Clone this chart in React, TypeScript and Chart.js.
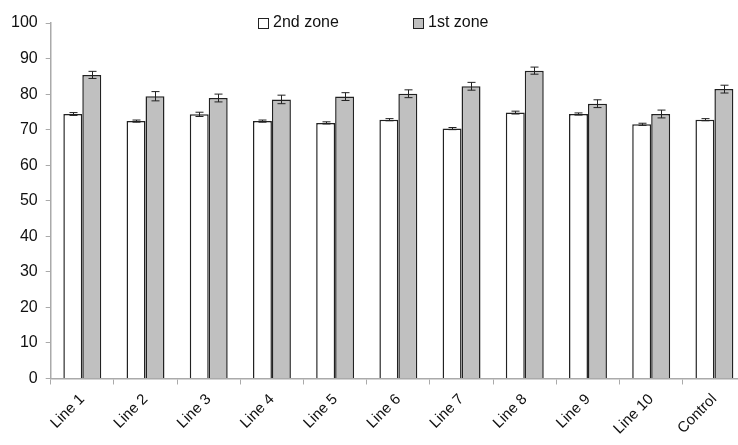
import React, { useEffect, useRef } from "react";
import { Chart, registerables } from "chart.js";

Chart.register(...registerables);

const categories = ["Line 1", "Line 2", "Line 3", "Line 4", "Line 5", "Line 6", "Line 7", "Line 8", "Line 9", "Line 10", "Control"];
const zone2 = [74.4, 72.4, 74.3, 72.4, 71.9, 72.8, 70.3, 74.8, 74.4, 71.5, 72.8];
const zone2Err = [0.4, 0.3, 0.6, 0.3, 0.3, 0.3, 0.3, 0.4, 0.3, 0.3, 0.3];
const zone1 = [85.4, 79.4, 78.9, 78.5, 79.3, 80.1, 82.2, 86.6, 77.3, 74.4, 81.4];
const zone1Err = [1.0, 1.3, 1.1, 1.2, 1.1, 1.1, 1.1, 1.0, 1.1, 1.1, 1.1];
const seriesNames = ["2nd zone", "1st zone"];
const yTicks = [0, 10, 20, 30, 40, 50, 60, 70, 80, 90, 100];

const FONT = "'Liberation Sans', Arial, sans-serif";

const errorBarPlugin = {
  id: "errorBars",
  afterDatasetsDraw(chart: any) {
    const ctx = chart.ctx;
    const y = chart.scales.y;
    const errs = [zone2Err, zone1Err];
    const vals = [zone2, zone1];
    ctx.save();
    ctx.strokeStyle = "#222";
    ctx.lineWidth = 1;
    chart.data.datasets.forEach((_: any, i: number) => {
      const meta = chart.getDatasetMeta(i);
      meta.data.forEach((bar: any, j: number) => {
        const x = Math.round(bar.x) + 0.5;
        const top = y.getPixelForValue(vals[i][j] + errs[i][j]);
        const bot = y.getPixelForValue(vals[i][j] - errs[i][j]);
        ctx.beginPath();
        ctx.moveTo(x, top);
        ctx.lineTo(x, bot);
        ctx.moveTo(x - 4, top);
        ctx.lineTo(x + 4, top);
        ctx.moveTo(x - 4, bot);
        ctx.lineTo(x + 4, bot);
        ctx.stroke();
      });
    });
    ctx.restore();
  },
};

const legendPlugin = {
  id: "customLegend",
  afterDraw(chart: any) {
    const ctx = chart.ctx;
    ctx.save();
    ctx.font = `16px ${FONT}`;
    ctx.textBaseline = "middle";
    const cy = 23;
    const fills = ["#ffffff", "#c0c0c0"];
    const starts = [258, 413];
    seriesNames.forEach((name, i) => {
      const x = starts[i];
      ctx.fillStyle = fills[i];
      ctx.fillRect(x + 0.5, cy - 4.5, 10, 10);
      ctx.strokeStyle = "#222";
      ctx.lineWidth = 1;
      ctx.strokeRect(x + 0.5, cy - 4.5, 10, 10);
      ctx.fillStyle = "#111";
      ctx.textAlign = "left";
      ctx.fillText(name, x + 15, cy);
    });
    ctx.restore();
  },
};

export default function App() {
  const ref = useRef<HTMLCanvasElement>(null);
  useEffect(() => {
    document.body.style.margin = "0";
    const chart = new Chart(ref.current!, {
      type: "bar",
      data: {
        labels: categories,
        datasets: [
          {
            label: seriesNames[0],
            data: zone2,
            backgroundColor: "#ffffff",
            borderColor: "#222",
            borderWidth: 1.5,
            barPercentage: 1,
            categoryPercentage: 0.6,
          },
          {
            label: seriesNames[1],
            data: zone1,
            backgroundColor: "#c0c0c0",
            borderColor: "#222",
            borderWidth: 1.5,
            barPercentage: 1,
            categoryPercentage: 0.6,
          },
        ],
      },
      options: {
        responsive: false,
        animation: false,
        layout: { padding: { top: 23, left: 3, bottom: 1, right: 0 } },
        plugins: { legend: { display: false }, tooltip: { enabled: false } },
        scales: {
          x: {
            grid: { display: true, drawOnChartArea: false, offset: true, color: "#aaa", tickLength: 6 },
            border: { display: true, color: "#aaa", width: 1.5 },
            ticks: { minRotation: 45, maxRotation: 45, padding: 6, color: "#111", font: { family: FONT, size: 15 } },
          },
          y: {
            min: 0,
            max: 100,
            afterBuildTicks: (axis: any) => {
              axis.ticks = yTicks.map((v) => ({ value: v }));
            },
            grid: { display: true, drawOnChartArea: false, color: "#aaa", tickLength: 5 },
            border: { display: true, color: "#aaa", width: 1.5 },
            ticks: { color: "#111", padding: 8, font: { family: FONT, size: 16 } },
          },
        },
      },
      plugins: [errorBarPlugin, legendPlugin],
    });
    return () => chart.destroy();
  }, []);
  return (
    <div style={{ width: 738, height: 445, overflow: "hidden" }}>
      <canvas ref={ref} width={746} height={445} />
    </div>
  );
}
